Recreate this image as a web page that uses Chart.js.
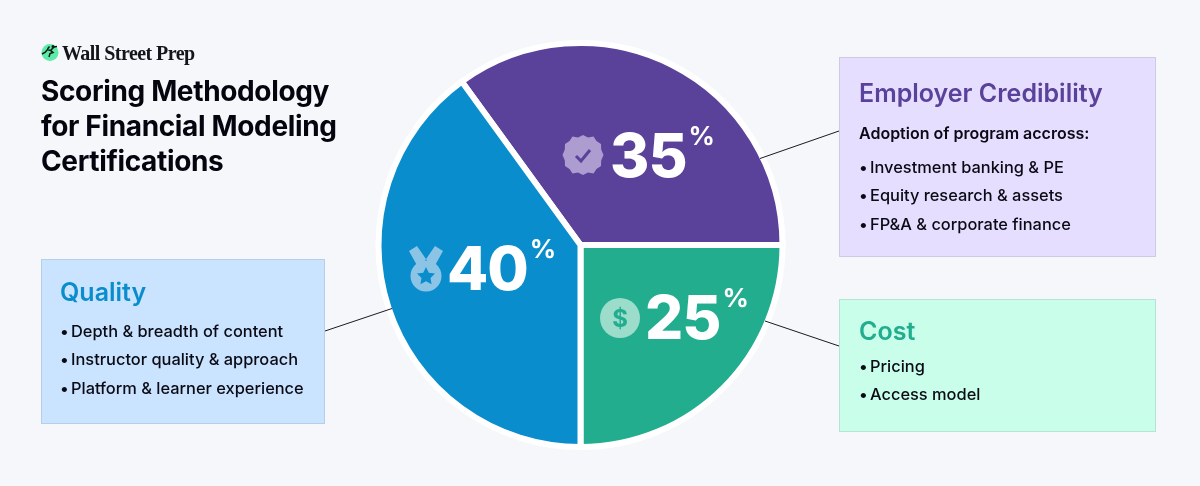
<!DOCTYPE html>
<html>
<head>
<meta charset="utf-8">
<script src="https://cdn.jsdelivr.net/npm/chart.js@4"></script>
<style>
html,body{margin:0;padding:0;background:#f5f7fa;}
body{position:relative;width:1200px;height:486px;overflow:hidden;font-family:Inter,sans-serif;color:#0a0a14;}
#wrap{position:absolute;left:0;top:0;width:1200px;height:486px;}
svg.layer{position:absolute;left:0;top:0;}
.abs{position:absolute;white-space:nowrap;}
.logo{left:62px;top:42px;font:bold 20px/22px "Liberation Serif",serif;letter-spacing:-.55px;color:#14141c;}
.title{left:41px;top:74px;font-size:28px;line-height:35px;font-weight:700;letter-spacing:-.35px;white-space:pre-line;color:#05050f;}
.box{position:absolute;box-sizing:border-box;border:1px solid;}
.box h3{position:absolute;margin:0;font-size:25px;line-height:30px;font-weight:600;white-space:nowrap;}
.box .sub{position:absolute;font-size:16px;line-height:22px;font-weight:600;white-space:nowrap;}
.box ul{position:absolute;margin:0;padding:0;list-style:none;font-size:16.4px;line-height:28.3px;font-weight:500;white-space:nowrap;}
.box li:before{content:"\2022";display:inline-block;width:11px;}
.pct{position:absolute;color:#fff;font-weight:800;font-size:60px;line-height:60px;letter-spacing:-1px;white-space:nowrap;}
.pct sup{position:absolute;left:100%;top:-2px;margin-left:2px;font-size:26px;line-height:26px;font-weight:700;letter-spacing:0;vertical-align:baseline;}
</style>
</head>
<body>
<div id="wrap"><canvas id="pie" width="1200" height="486"></canvas></div>

<svg class="layer" width="1200" height="486" viewBox="0 0 1200 486">
  <g stroke="#1a1a22" stroke-width="1">
    <line x1="760" y1="158.500" x2="839" y2="131"/>
    <line x1="325" y1="331" x2="392" y2="308.500"/>
    <line x1="765" y1="321" x2="839" y2="346"/>
  </g>
  <!-- logo -->
  <circle cx="50" cy="52.500" r="8.500" fill="#5eeaa8"/>
  <path d="M42 54l3-1.500 2.500-3 3 1 2.500 2-3 1-1 3.500M51 50l3-3 3-.5M47.500 49l2-2.500" fill="none" stroke="#0c1a14" stroke-width="1.500"/>
  <circle cx="53" cy="46.500" r="1.500" fill="#0c1a14"/>
  <!-- badge -->
  <g transform="translate(583,155)">
    <path id="badge" d="M0-20l5 2.500 5.500-1 3 4.500 4.500 3 .2 5.500 2.300 5.500-2.300 5.500-.2 5.500-4.500 3-3 4.500-5.500-1-5 2.500-5-2.500-5.500 1-3-4.500-4.500-3-.2-5.500-2.300-5.500 2.300-5.500.2-5.500 4.500-3 3-4.500 5.500 1z" fill="#ac9cd0"/>
    <path d="M-7 1l5 5 9-11" fill="none" stroke="#5a4199" stroke-width="3"/>
  </g>
  <!-- medal -->
  <g transform="translate(426,268)" fill="#8cc4e6">
    <path d="M-17-17l8-5 11 16-9 7zM17-17l-8-5-11 16 9 7z"/>
    <circle cx="0" cy="8" r="15.500"/>
    <path d="M0-1l2.800 5.800 6.200.8-4.500 4.400 1.100 6.300-5.600-3-5.600 3 1.100-6.300-4.500-4.400 6.200-.8z" fill="#0a8dcd"/>
  </g>
  <!-- dollar coin -->
  <circle cx="620" cy="318" r="20" fill="#9bdccb"/>
  <text x="620" y="326.500" text-anchor="middle" font-family="Inter" font-weight="700" font-size="24" fill="#22ad8f">$</text>
</svg>

<div class="abs logo">Wall Street Prep</div>
<div class="abs title" id="title"></div>
<div id="labels"></div>

<script>
const categories=['Employer Credibility','Cost','Quality'];
const shares=[35,25,40];
const sliceColors=['#5a4199','#22ad8f','#0a8dcd'];
const titleLines=['Scoring Methodology','for Financial Modeling','Certifications'];
const credibilityItems=['Investment banking & PE','Equity research & assets','FP&A & corporate finance'];
const costItems=['Pricing','Access model'];
const qualityItems=['Depth & breadth of content','Instructor quality & approach','Platform & learner experience'];

document.getElementById('title').textContent=titleLines.join('\n');

new Chart(document.getElementById('pie'),{
  type:'pie',
  data:{
    labels:categories,
    datasets:[{
      data:shares,
      backgroundColor:sliceColors,
      borderColor:'#ffffff',
      borderWidth:6,
      borderJoinStyle:'miter',
      radius:202
    }]
  },
  options:{
    responsive:false,
    animation:false,
    rotation:-36,
    layout:{padding:{right:39,top:4}},
    plugins:{legend:{display:false},tooltip:{enabled:false}}
  }
});

// boxes and percent labels
const labels=document.getElementById('labels');
function addBox(o){
  const b=document.createElement('div');
  b.className='box';
  b.style.cssText=`left:${o.x}px;top:${o.y}px;width:${o.w}px;height:${o.h}px;background:${o.bg};border-color:${o.line};`;
  let html=`<h3 style="left:${o.pad}px;top:${o.headTop}px;color:${o.head}">${o.name}</h3>`;
  if(o.sub) html+=`<div class="sub" style="left:${o.pad}px;top:${o.subTop}px">${o.sub}</div>`;
  html+=`<ul style="left:${o.pad}px;top:${o.listTop}px">`+o.items.map(t=>`<li>${t.replace(/&/g,'&amp;')}</li>`).join('')+'</ul>';
  b.innerHTML=html;
  labels.appendChild(b);
}
addBox({x:839,y:57,w:317,h:200,bg:'#e6deff',line:'#cfc9e4',head:'#5a4199',name:categories[0],pad:19,headTop:20,
  sub:'Adoption of program accross:',subTop:64,listTop:95,items:credibilityItems});
addBox({x:839,y:299,w:317,h:133,bg:'#c9feea',line:'#b5e4d4',head:'#22ad8f',name:categories[1],pad:19,headTop:16,listTop:52,items:costItems});
addBox({x:41,y:259,w:284,h:165,bg:'#cae3fe',line:'#b6cfe6',head:'#0a8dcd',name:categories[2],pad:18,headTop:17,listTop:57,items:qualityItems});

const pctPos=[[610,125],[645,287],[447,238]];
shares.forEach((v,i)=>{
  const p=document.createElement('div');
  p.className='pct';
  p.style.left=pctPos[i][0]+'px';
  p.style.top=pctPos[i][1]+'px';
  p.innerHTML=v+'<sup>%</sup>';
  labels.appendChild(p);
});
</script>
</body>
</html>
